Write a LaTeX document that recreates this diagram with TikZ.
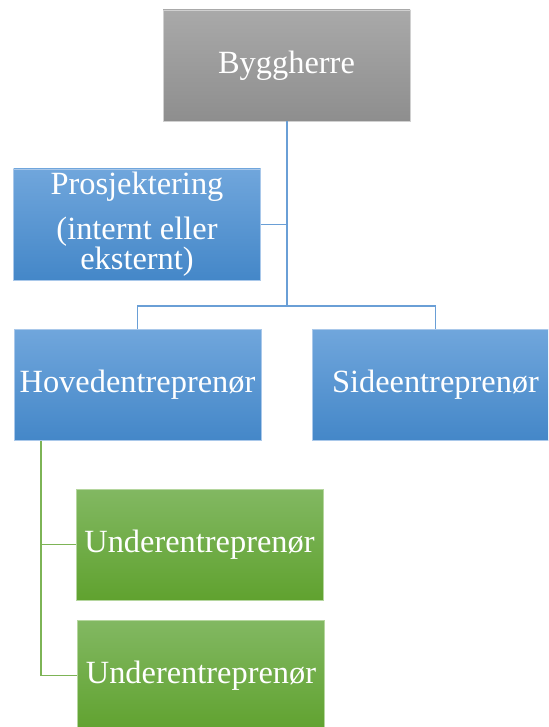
\documentclass[tikz,border=0pt]{standalone}
\usepackage{fontspec}
\setmainfont{Liberation Serif}
\usetikzlibrary{shadings}
\definecolor{greyTop}{HTML}{A9A9A9}
\definecolor{greyBot}{HTML}{8E8E8E}
\definecolor{blueTop}{HTML}{70A6DC}
\definecolor{blueBot}{HTML}{4487C8}
\definecolor{greenTop}{HTML}{82B862}
\definecolor{greenBot}{HTML}{60A22F}
\definecolor{blueLine}{HTML}{6A9FD6}
\definecolor{greenLine}{HTML}{7DB456}
\definecolor{edgeBlue}{HTML}{A9C8EA}
\definecolor{edgeGrey}{HTML}{D0D0D0}
\definecolor{edgeGreen}{HTML}{B5D69E}
\tikzset{
  orgbox/.style={rectangle, minimum width=247pt, minimum height=111pt,
    inner sep=0pt, text=white, align=center, line width=0.8pt,
    font=\fontsize{32.4}{28}\selectfont},
  greybox/.style={orgbox, draw=edgeGrey, top color=greyTop, bottom color=greyBot},
  bluebox/.style={orgbox, draw=edgeBlue, top color=blueTop, bottom color=blueBot},
  greenbox/.style={orgbox, draw=edgeGreen, top color=greenTop, bottom color=greenBot},
  blueconn/.style={draw=blueLine, line width=1.2pt},
  greenconn/.style={draw=greenLine, line width=1.2pt}
}
\begin{document}
\begin{tikzpicture}[x=1pt, y=-1pt]
  \useasboundingbox (0,0) rectangle (548,727);
  \clip (0,0) rectangle (548,727);
  \fill[white] (0,0) rectangle (548,727);

  % junction points of the connector tree
  \coordinate (trunk) at (287,306);
  \coordinate (subtrunk) at (41,441);

  % blue connectors (drawn first, boxes cover their ends)
  \node[greybox] (bygg) at (286.5,65.5) {Byggherre};
  \draw[blueconn] (bygg.south -| trunk) -- (trunk);
  \node[bluebox] (pros) at (137,224.5) {Prosjektering\\[14pt](internt eller\\eksternt)};
  \draw[blueconn] (pros.east) -- (pros.east -| trunk);
  \node[bluebox] (hoved) at (137.5,385) {Hovedentreprenør};
  \node[bluebox] (side) at (435.5,385) {Sideentreprenør};
  \draw[blueconn] (hoved.north) |- (trunk) -| (side.north);

  % green connectors to the subcontractors
  \node[greenbox] (under1) at (199.5,544.5) {Underentreprenør};
  \node[greenbox] (under2) at (201,675.5) {Underentreprenør};
  \draw[greenconn] (subtrunk) |- (under1.west);
  \draw[greenconn] (subtrunk) |- (under2.west);
\end{tikzpicture}
\end{document}
